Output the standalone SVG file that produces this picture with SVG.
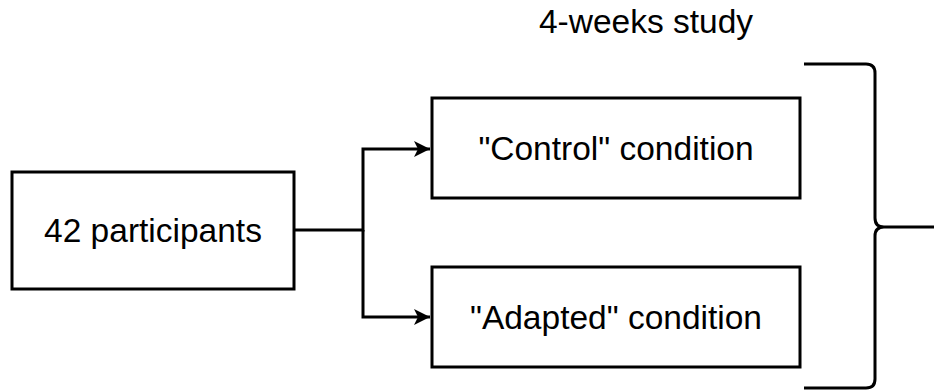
<svg xmlns="http://www.w3.org/2000/svg" width="934" height="391" viewBox="0 0 934 391">
<defs>
<style>
.box{fill:#fff;stroke:#000;stroke-width:3}
.lbl{font-family:"Liberation Sans",Arial,sans-serif;font-size:33.5px;fill:#000;text-anchor:middle}
.ln{fill:none;stroke:#000;stroke-width:3}
</style>
<marker id="arr" markerWidth="16" markerHeight="16" viewBox="0 0 16 16" refX="16" refY="8" orient="auto" markerUnits="userSpaceOnUse">
<path d="M0,0 L16,8 L0,16 L4,8 Z" fill="#000"/>
</marker>
</defs>
<rect width="934" height="391" fill="#fff"/>
<g id="connectors">
<path class="ln" d="M294,230 H363 V149 H430" marker-end="url(#arr)"/>
<path class="ln" d="M363,230 V317 H430" marker-end="url(#arr)"/>
<path class="ln" d="M804,64 H866 Q875,64 875,73 V218 Q875,227 884,227 Q875,227 875,236 V379 Q875,388 866,388 H804 M884,227 H934"/>
</g>
<g id="participants">
<rect class="box" x="12" y="172" width="282" height="117"/>
<text class="lbl" x="153" y="242">42 participants</text>
</g>
<g id="control">
<rect class="box" x="432" y="98" width="368" height="100"/>
<text class="lbl" x="616" y="160">"Control" condition</text>
</g>
<g id="adapted">
<rect class="box" x="432" y="267" width="368" height="100"/>
<text class="lbl" x="616" y="329">"Adapted" condition</text>
</g>
<g id="study-label">
<text class="lbl" x="646" y="33">4-weeks study</text>
</g>
</svg>
